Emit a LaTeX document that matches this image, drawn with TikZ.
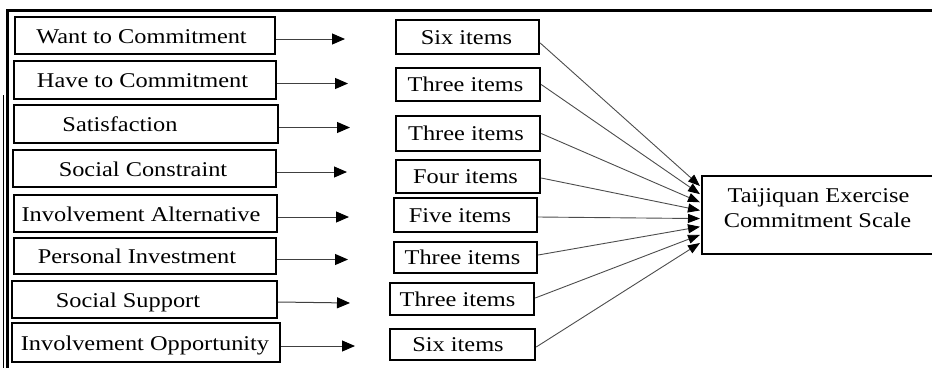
\documentclass[tikz,border=0pt]{standalone}
\usepackage{fontspec}
\setmainfont{Liberation Serif}
\usepackage{graphicx}
\usetikzlibrary{arrows.meta}

% slightly widened serif lettering
\newcommand{\wtxt}[1]{\scalebox{1.16}[1]{#1}}

\begin{document}
\begin{tikzpicture}[x=1pt,y=-1pt,
  box/.style={draw,line width=2.4pt,rectangle,inner sep=0pt},
  txt/.style={font=\fontsize{21}{24}\selectfont,inner sep=0pt,anchor=base},
  feed/.style={draw=black!75,line width=1pt,-{Triangle[length=13pt,width=11pt,color=black]}},
  conv/.style={draw=black!70,line width=0.9pt,-{Triangle[length=12pt,width=9pt,color=black]}},
  frame/.style={line width=2.2pt}
]
\useasboundingbox (0,0) rectangle (932,368);

% outer frame
\draw[frame] (7.5,368) -- (7.5,10.5) -- (932,10.5);
\draw[line width=1.4pt] (3.5,95) -- (3.5,368);

% dimensions
\node[box,minimum width=260pt,minimum height=37pt] (L1) at (145,35.5) {};
\node[box,minimum width=262pt,minimum height=38pt] (L2) at (145,80) {};
\node[box,minimum width=264pt,minimum height=38pt] (L3) at (146,124) {};
\node[box,minimum width=263pt,minimum height=37pt] (L4) at (144.5,168.5) {};
\node[box,minimum width=263pt,minimum height=37pt] (L5) at (145.5,213.5) {};
\node[box,minimum width=262pt,minimum height=36pt] (L6) at (145,256) {};
\node[box,minimum width=265pt,minimum height=37pt] (L7) at (144.5,299.5) {};
\node[box,minimum width=268pt,minimum height=39pt] (L8) at (146,342.5) {};

\node[txt] (tL1) at (141.5,43) {\wtxt{Want to Commitment}};
\node[txt] (tL2) at (142.5,87.5) {\wtxt{Have to Commitment}};
\node[txt] (tL3) at (120,131.5) {\wtxt{Satisfaction}};
\node[txt] (tL4) at (143,176) {\wtxt{Social Constraint}};
\node[txt] (tL5) at (141,221) {\wtxt{Involvement Alternative}};
\node[txt] (tL6) at (137,263.5) {\wtxt{Personal Investment}};
\node[txt] (tL7) at (128,307) {\wtxt{Social Support}};
\node[txt] (tL8) at (145,350) {\wtxt{Involvement Opportunity}};

% item counts
\node[box,minimum width=143pt,minimum height=34pt] (M1) at (467.5,37) {};
\node[box,minimum width=144pt,minimum height=33pt] (M2) at (468,84.5) {};
\node[box,minimum width=144pt,minimum height=35pt] (M3) at (468,133.5) {};
\node[box,minimum width=144pt,minimum height=33pt] (M4) at (468,176.5) {};
\node[box,minimum width=143pt,minimum height=34pt] (M5) at (465.5,215) {};
\node[box,minimum width=143pt,minimum height=31pt] (M6) at (465.5,257.5) {};
\node[box,minimum width=144pt,minimum height=32pt] (M7) at (462,299) {};
\node[box,minimum width=145pt,minimum height=31pt] (M8) at (462.5,344.5) {};

\node[txt] (tM1) at (466.5,44) {\wtxt{Six items}};
\node[txt] (tM2) at (465.5,91.5) {\wtxt{Three items}};
\node[txt] (tM3) at (466,140.5) {\wtxt{Three items}};
\node[txt] (tM4) at (465.5,183.5) {\wtxt{Four items}};
\node[txt] (tM5) at (460,222) {\wtxt{Five items}};
\node[txt] (tM6) at (462.5,264.5) {\wtxt{Three items}};
\node[txt] (tM7) at (457.5,306) {\wtxt{Three items}};
\node[txt] (tM8) at (458,351.5) {\wtxt{Six items}};

% scale
\node[box,minimum width=232pt,minimum height=78pt] (R) at (818,215) {};
\node[txt] (tR1) at (818.5,202) {\wtxt{Taijiquan Exercise}};
\node[txt] (tR2) at (817.5,227) {\wtxt{Commitment Scale}};

% free ends of the short arrows
\coordinate (a1) at (345,39);
\coordinate (a2) at (348,83.5);
\coordinate (a3) at (350,127.5);
\coordinate (a4) at (347,172);
\coordinate (a5) at (349,217);
\coordinate (a6) at (348,259.5);
\coordinate (a7) at (350,303);
\coordinate (a8) at (355,346);

\draw[feed] ([yshift=-3.5pt]L1.east) -- (a1);
\draw[feed] ([yshift=-3.5pt]L2.east) -- (a2);
\draw[feed] ([yshift=-3.5pt]L3.east) -- (a3);
\draw[feed] ([yshift=-3.5pt]L4.east) -- (a4);
\draw[feed] ([yshift=-3.5pt]L5.east) -- (a5);
\draw[feed] ([yshift=-3.5pt]L6.east) -- (a6);
\draw[feed] ([yshift=-2.5pt]L7.east) -- (a7);
\draw[feed] ([yshift=-3.5pt]L8.east) -- (a8);

% converging arrows into the scale box
\foreach \i in {1,...,8} {
  \coordinate (T\i) at (700,{186+(\i-1)*8.14});
}
\draw[conv] ([yshift=-6pt]M1.east) -- (T1);
\draw[conv] (M2.east) -- (T2);
\draw[conv] (M3.east) -- (T3);
\draw[conv] ([yshift=-1.5pt]M4.east) -- (T4);
\draw[conv] ([yshift=-2pt]M5.east) -- (T5);
\draw[conv] ([yshift=2.5pt]M6.east) -- (T6);
\draw[conv] ([yshift=1pt]M7.east) -- (T7);
\draw[conv] ([yshift=-2.5pt]M8.east) -- (T8);
\end{tikzpicture}
\end{document}
